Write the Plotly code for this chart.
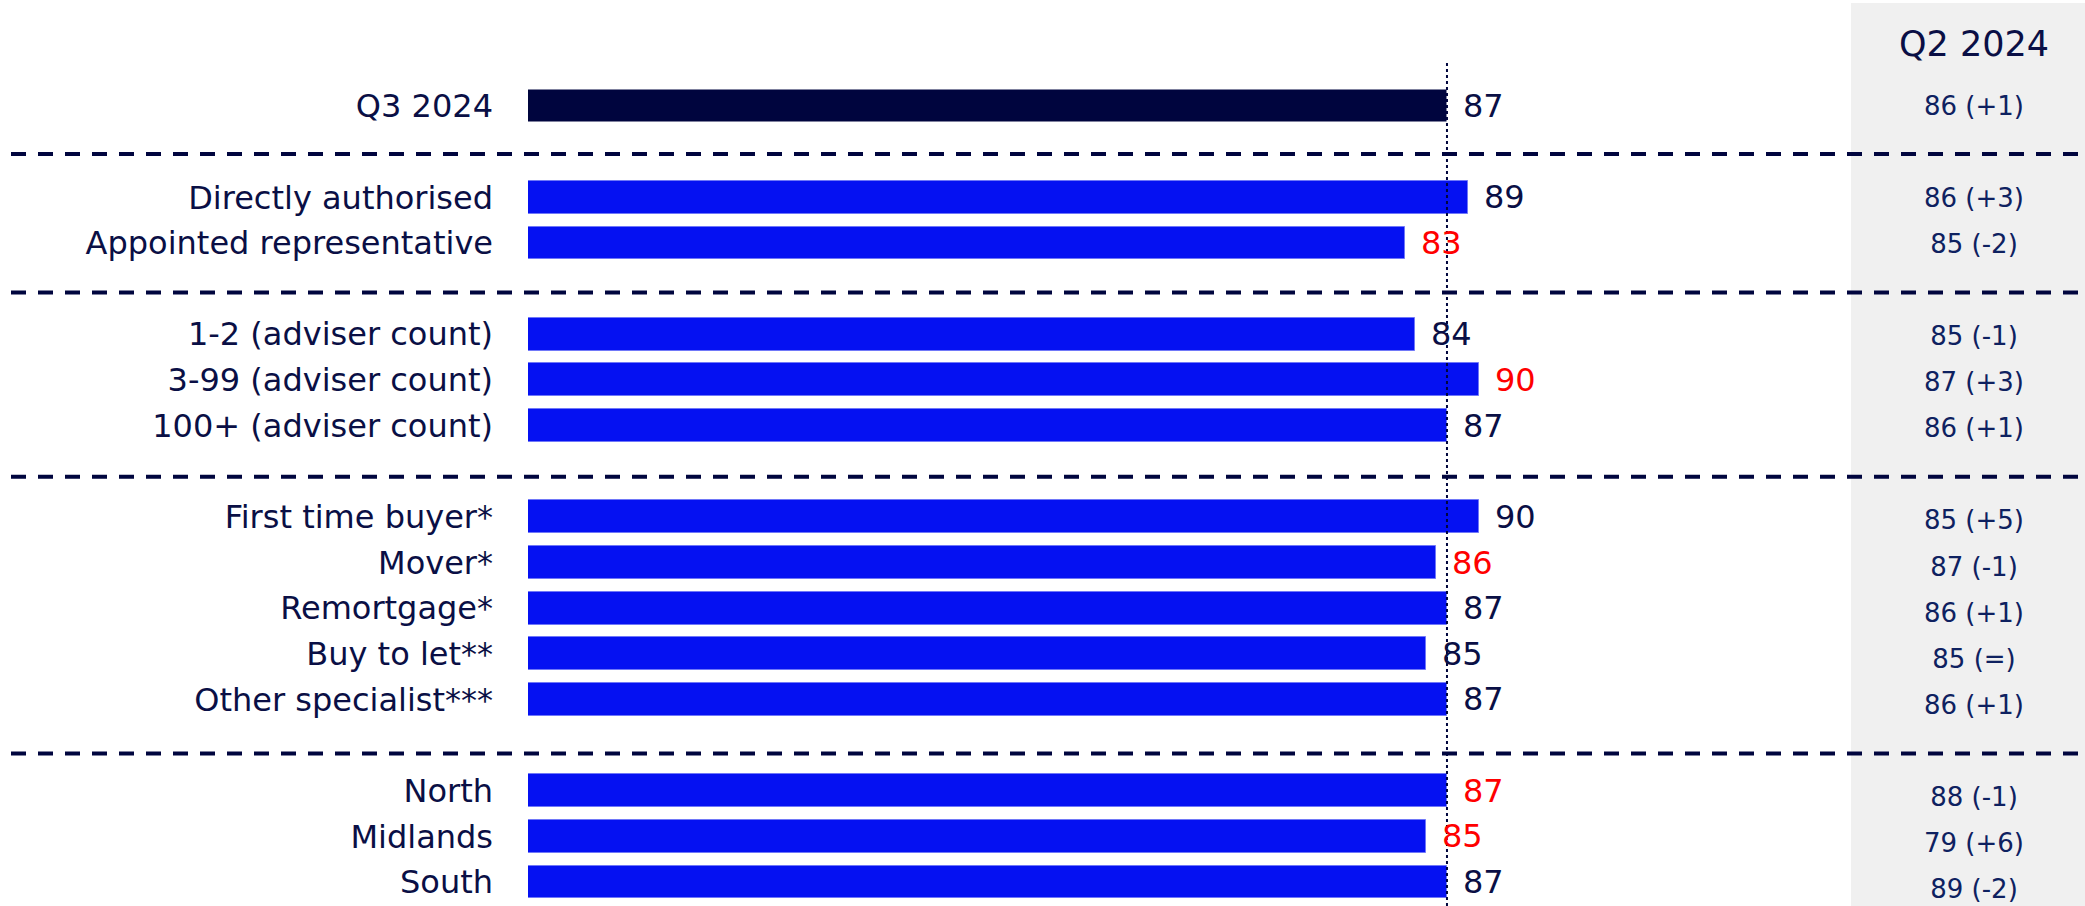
import plotly.graph_objects as go

# ---- data ----
groups = [
    ["Q3 2024"],
    ["Directly authorised", "Appointed representative"],
    ["1-2 (adviser count)", "3-99 (adviser count)", "100+ (adviser count)"],
    ["First time buyer*", "Mover*", "Remortgage*", "Buy to let**", "Other specialist***"],
    ["North", "Midlands", "South"],
]
values = [87, 89, 83, 84, 90, 87, 90, 86, 87, 85, 87, 87, 85, 87]
prev_values = [86, 86, 85, 85, 87, 86, 85, 87, 86, 85, 86, 88, 79, 89]
red_flags = [False, False, True, False, True, False, False, True, False, False, False, True, True, False]
panel_title = "Q2 2024"
overall_value = values[0]

# ---- layout helpers ----
categories, slots, seps = [], [], []
s = 0
for gi, g in enumerate(groups):
    if gi > 0:
        seps.append(s)
        s += 1
    for c in g:
        categories.append(c)
        slots.append(s)
        s += 1

W, H = 2085, 906
L = 528
XSCALE = 10.563
NAVY = "#00053E"
BLUE = "#0511F2"
TXT = "#0A0F45"
PANEL_TXT = "#0E2160"
FONT = "DejaVu Sans"

def chg(v, p):
    d = v - p
    return "=" if d == 0 else (f"+{d}" if d > 0 else f"{d}")

panel_text = [f"{p} ({chg(v, p)})" for v, p in zip(values, prev_values)]

fig = go.Figure()
fig.add_trace(go.Bar(
    x=values, y=slots, orientation="h", width=0.72,
    marker=dict(color=[NAVY] + [BLUE] * (len(values) - 1),
                line=dict(color=["rgba(0,0,0,0)"] + ["#7078F8"] * (len(values) - 1), width=1)),
    hoverinfo="skip", showlegend=False,
))
fig.add_trace(go.Scatter(
    x=[(1974 - L) / XSCALE] * len(values), y=slots, yaxis="y2", mode="text", text=panel_text,
    textposition="middle center", textfont=dict(family=FONT, size=26, color=PANEL_TXT),
    hoverinfo="skip", showlegend=False,
))

for v, sl, red in zip(values, slots, red_flags):
    fig.add_annotation(x=v, y=sl, xref="x", yref="y", text=str(v), showarrow=False,
                       xanchor="left", xshift=14,
                       font=dict(family=FONT, size=32, color="#FF0000" if red else TXT))

shapes = []
# gray panel
shapes.append(dict(type="rect", xref="paper", yref="paper",
                   x0=(1851 - L) / (W - L), x1=1, y0=0, y1=1 - 3 / H,
                   fillcolor="#F0F0F0", line=dict(width=0), layer="below"))
# separators
for sp in seps:
    shapes.append(dict(type="line", xref="paper", yref="y2",
                       x0=(11 - L) / (W - L), x1=1, y0=sp, y1=sp,
                       line=dict(color=NAVY, width=4, dash="15px,12px")))
# reference dotted line
shapes.append(dict(type="line", xref="x", yref="paper", x0=overall_value, x1=overall_value,
                   y0=0, y1=1 - 63 / H, line=dict(color=NAVY, width=2, dash="dot")))

fig.add_annotation(x=(1974 - L) / (W - L), y=1 - 44 / H, xref="paper", yref="paper",
                   text=panel_title, showarrow=False, xanchor="center", yanchor="middle",
                   font=dict(family=FONT, size=35, color=TXT))

fig.update_layout(
    width=W, height=H, margin=dict(l=L, r=0, t=0, b=0),
    paper_bgcolor="white", plot_bgcolor="rgba(0,0,0,0)",
    shapes=shapes, bargap=0,
    xaxis=dict(range=[0, (W - L) / XSCALE], visible=False, fixedrange=True),
    yaxis=dict(range=[(H - 106) / 45.65, -106 / 45.65], tickvals=slots, ticktext=categories,
               ticks="", showgrid=False, zeroline=False, showline=False,
               ticklabelstandoff=34,
               tickfont=dict(family=FONT, size=32, color=TXT)),
    yaxis2=dict(range=[(H - 108) / 46.1, -108 / 46.1], overlaying="y", visible=False),
    font=dict(family=FONT),
)

fig.write_html("out.html")
